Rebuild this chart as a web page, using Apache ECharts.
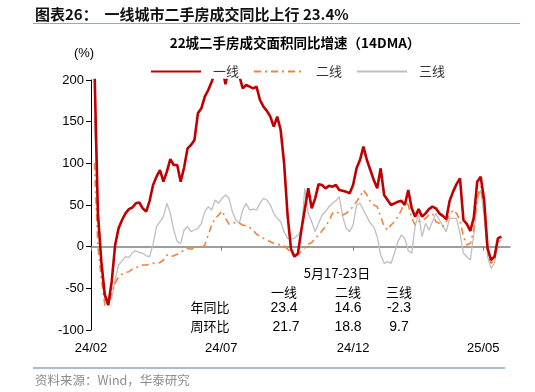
<!DOCTYPE html>
<html><head><meta charset="utf-8">
<script src="https://cdn.jsdelivr.net/npm/echarts@6/dist/echarts.min.js"></script>
<style>html,body{margin:0;padding:0;background:#fff}#c{width:535px;height:392px}</style>
</head><body><div id="c"></div>
<script>
// ---- data (14DMA YoY, %, sampled every 4 days from 2024-02-05) ----
const startDate = '2024-02-05';
const stepDays = 4;
const tier1 = [215,40,-18,-58,-70,-42,2,22,32,40,45,47,52,53,46,42,55,74,84,92,78,90,105,98,98,78,95,118,122,128,160,
  166,180,188,198,210,215,215,195,215,220,215,205,190,194,192,190,192,176,168,163,156,144,156,140,100,38,-3,-12,-8,
  20,45,70,46,58,75,74,70,73,72,74,68,67,66,64,74,94,104,120,104,92,80,70,94,62,56,50,52,54,55,
  50,68,46,36,45,36,40,45,48,46,40,37,33,55,66,75,82,32,27,19,35,78,84,56,-2,-16,-12,10,12];
const tier2 = [100,0,-38,-70,-72,-55,-44,-36,-33,-31,-30,-27,-25,-24,-22,-22,-21,-20,-20,-19,-16,-10,-12,-11,-9,-7,-4,-2,-3,-2,0,
  -2,2,14,26,34,38,43,34,27,28,29,28,26,25,23,20,15,12,10,8,6,4,3,2,1,-3,-7,-12,-10,
  -5,-1,3,5,10,14,19,24,31,40,42,40,38,40,44,48,54,60,68,62,54,50,48,36,24,20,26,30,36,44,
  55,50,34,26,30,32,34,38,40,30,28,24,30,38,44,40,32,12,2,4,20,60,72,48,-6,-20,-16,6,8];
const tier3 = [155,50,-22,-55,-66,-62,-40,-22,-17,-12,-13,-7,-5,-7,-8,-11,-12,3,24,30,36,52,40,20,6,4,20,24,18,20,22,
  28,42,48,44,56,52,58,62,58,42,32,28,44,52,44,45,44,52,58,56,50,40,34,30,18,10,9,10,14,
  20,70,40,30,18,28,38,42,48,52,55,60,36,22,18,26,50,52,44,36,28,24,12,-10,-20,-18,-20,-8,6,14,
  10,-5,-8,25,40,12,28,20,30,40,32,25,18,34,34,34,16,-8,-12,-16,15,55,68,36,-12,-26,-20,5,8];
const seriesNames = ['一线','二线','三线'];
const axisStart = '2024-02-01', axisEnd = '2025-06-01';
const tickDates = ['2024-02-01','2024-07-01','2024-12-01','2025-05-01'];
const tickLabels = ['24/02','24/07','24/12','25/05'];
const yTicks = {min:-100, max:200, interval:50};
const tableTitle = '5月17-23日';
const tableRows = ['年同比','周环比'];
const yoy = [23.4, 14.6, -2.3];
const wow = [21.7, 18.8, 9.7];

// ---- build: x = days since axisStart ----
const DAY = 86400000;
function utc(s){const p=s.split('-').map(Number);return Date.UTC(p[0],p[1]-1,p[2]);}
const dayOf = s => Math.round((utc(s)-utc(axisStart))/DAY);
const firstDay = dayOf(startDate);
const pair = arr => arr.map((v,i)=>[firstDay+i*stepDays, v]);
const tickDays = tickDates.map(dayOf);
const xMax = dayOf(axisEnd);

const LAT = '"Liberation Sans", Arial, "Noto Sans CJK SC", sans-serif';
const CJK = '"Noto Sans CJK SC", "Liberation Sans", sans-serif';

const chart = echarts.init(document.getElementById('c'), null, {renderer:'canvas'});
const T = (text,x,y,opt={}) => ({type:'text', x, y, silent:true, z:100,
  style: Object.assign({text, fill:'#000', fontSize:13, fontFamily:LAT, align:'center', verticalAlign:'middle'}, opt)});
const colX = [284, 348, 399];
const graphics = [
  T('图表26：  一线城市二手房成交同比上行 23.4%', 35, 14, {align:'left', fontSize:15, fontWeight:'bold', fontFamily:CJK, fill:'#111'}),
  {type:'line', shape:{x1:33,y1:23.5,x2:520,y2:23.5}, style:{stroke:'#8FA9C3', lineWidth:1}, silent:true},
  T('22城二手房成交面积同比增速（14DMA）', 295, 43, {fontSize:13.5, fontWeight:'bold', fontFamily:CJK, fill:'#000'}),
  T('(%)', 84, 53, {fontSize:13}),
  T(tableTitle, 337, 273, {fontFamily:CJK, fontSize:13}),
  {type:'line', shape:{x1:33,y1:368,x2:505,y2:368}, style:{stroke:'#A9BED2', lineWidth:2}, silent:true},
  T('资料来源：Wind，华泰研究', 35, 380, {align:'left', fontSize:12.5, fontFamily:CJK, fill:'#8c8c8c'})
];
seriesNames.forEach((n,i)=>graphics.push(T(n, colX[i], 292, {fontFamily:CJK, fontSize:13})));
tableRows.forEach((r,j)=>graphics.push(T(r, 210, 307+j*19, {fontFamily:CJK, fontSize:13})));
yoy.forEach((v,i)=>graphics.push(T(v.toFixed(1), colX[i], 308, {fontSize:14})));
wow.forEach((v,i)=>graphics.push(T(v.toFixed(1), colX[i]+(i===0?2:0), 327, {fontSize:14})));

chart.setOption({
  animation:false,
  backgroundColor:'#fff',
  grid:{left:91, right:25, top:80, bottom:62, containLabel:false},
  legend:{
    top:60, left:145, itemWidth:50, itemHeight:12, itemGap:14,
    data:seriesNames,
    itemStyle:{opacity:0},
    textStyle:{fontFamily:CJK, fontSize:13, color:'#333', padding:[0,0,0,7]}
  },
  xAxis:[
    {type:'value', min:0, max:xMax,
     axisLine:{show:true, onZero:true, lineStyle:{color:'#7f7f7f', width:1.5}},
     axisTick:{show:true, customValues:tickDays, length:4, inside:false, lineStyle:{color:'#7f7f7f'}},
     axisLabel:{show:false}, splitLine:{show:false}},
    {type:'value', min:0, max:xMax, position:'bottom',
     axisLine:{show:false, onZero:false}, axisTick:{show:false}, splitLine:{show:false},
     axisLabel:{show:true, customValues:tickDays, margin:12, color:'#000', fontSize:13, fontFamily:LAT,
       formatter:(v)=>{const k=tickDays.indexOf(Math.round(v));return k>=0?tickLabels[k]:'';}}}
  ],
  yAxis:{type:'value', min:yTicks.min, max:yTicks.max, interval:yTicks.interval,
    axisLine:{show:true, lineStyle:{color:'#000', width:1}},
    axisTick:{show:true, length:5, lineStyle:{color:'#000'}},
    axisLabel:{color:'#000', fontSize:13, fontFamily:LAT, margin:7},
    splitLine:{show:false}},
  series:[
    {name:'三线', type:'line', data:pair(tier3), showSymbol:false, symbol:'none', z:2,
     lineStyle:{color:'#BFBFBF', width:1.3}, itemStyle:{color:'#BFBFBF'}},
    {name:'二线', type:'line', data:pair(tier2), showSymbol:false, symbol:'none', z:3,
     lineStyle:{color:'#F0843A', width:1.6, type:[7,4,2,4]}, itemStyle:{color:'#F0843A'}},
    {name:'一线', type:'line', data:pair(tier1), showSymbol:false, symbol:'none', z:4,
     lineStyle:{color:'#C00000', width:2.6}, itemStyle:{color:'#C00000'}}
  ],
  graphic:graphics
});
</script></body></html>
